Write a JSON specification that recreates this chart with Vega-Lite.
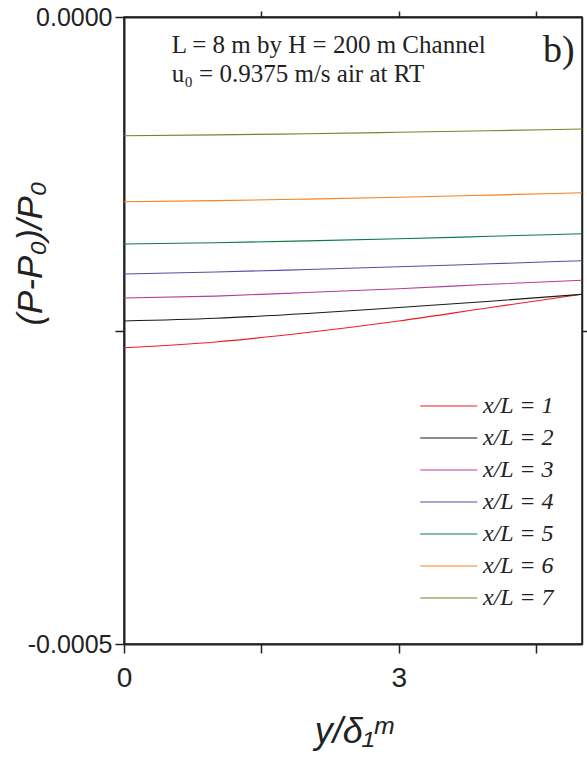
{
  "$schema": "https://vega.github.io/schema/vega-lite/v6.json",
  "width": 458,
  "height": 627,
  "autosize": {"type": "none"},
  "padding": {"left": 124, "top": 17, "right": 5, "bottom": 117},
  "background": "white",
  "config": {
    "view": {"stroke": "#222", "strokeWidth": 1.5},
    "axis": {"grid": false, "domainColor": "#222", "tickColor": "#222", "labelColor": "#222", "titleColor": "#222", "labelFlush": false, "labelOverlap": false}
  },
  "resolve": {"axis": {"x": "independent", "y": "independent"}},
  "layer": [
    {
      "data": {"values": [
        {"s": "x/L = 1", "x": 0, "p": -0.00026372},
        {"s": "x/L = 1", "x": 1, "p": -0.00025917},
        {"s": "x/L = 1", "x": 2, "p": -0.0002516},
        {"s": "x/L = 1", "x": 3, "p": -0.00024242},
        {"s": "x/L = 1", "x": 4, "p": -0.00023166},
        {"s": "x/L = 1", "x": 5, "p": -0.00022113},
        {"s": "x/L = 2", "x": 0, "p": -0.00024242},
        {"s": "x/L = 2", "x": 1, "p": -0.00024027},
        {"s": "x/L = 2", "x": 2, "p": -0.00023644},
        {"s": "x/L = 2", "x": 3, "p": -0.00023166},
        {"s": "x/L = 2", "x": 4, "p": -0.00022664},
        {"s": "x/L = 2", "x": 5, "p": -0.00022113},
        {"s": "x/L = 3", "x": 0, "p": -0.00022408},
        {"s": "x/L = 3", "x": 1, "p": -0.00022257},
        {"s": "x/L = 3", "x": 2, "p": -0.0002197},
        {"s": "x/L = 3", "x": 3, "p": -0.00021667},
        {"s": "x/L = 3", "x": 4, "p": -0.00021316},
        {"s": "x/L = 3", "x": 5, "p": -0.00020997},
        {"s": "x/L = 4", "x": 0, "p": -0.00020494},
        {"s": "x/L = 4", "x": 1, "p": -0.00020335},
        {"s": "x/L = 4", "x": 2, "p": -0.00020136},
        {"s": "x/L = 4", "x": 3, "p": -0.0001992},
        {"s": "x/L = 4", "x": 4, "p": -0.00019681},
        {"s": "x/L = 4", "x": 5, "p": -0.00019434},
        {"s": "x/L = 5", "x": 0, "p": -0.00018102},
        {"s": "x/L = 5", "x": 1, "p": -0.00017998},
        {"s": "x/L = 5", "x": 2, "p": -0.00017855},
        {"s": "x/L = 5", "x": 3, "p": -0.00017687},
        {"s": "x/L = 5", "x": 4, "p": -0.00017488},
        {"s": "x/L = 5", "x": 5, "p": -0.00017281},
        {"s": "x/L = 6", "x": 0, "p": -0.00014729},
        {"s": "x/L = 6", "x": 1, "p": -0.00014641},
        {"s": "x/L = 6", "x": 2, "p": -0.00014522},
        {"s": "x/L = 6", "x": 3, "p": -0.00014378},
        {"s": "x/L = 6", "x": 4, "p": -0.00014203},
        {"s": "x/L = 6", "x": 5, "p": -0.00014011},
        {"s": "x/L = 7", "x": 0, "p": -0.00009466},
        {"s": "x/L = 7", "x": 1, "p": -0.00009402},
        {"s": "x/L = 7", "x": 2, "p": -0.00009306},
        {"s": "x/L = 7", "x": 3, "p": -0.00009195},
        {"s": "x/L = 7", "x": 4, "p": -0.00009067},
        {"s": "x/L = 7", "x": 5, "p": -0.00008931}
      ]},
      "mark": {"type": "line", "strokeWidth": 1.1, "interpolate": "monotone", "clip": true},
      "encoding": {
        "x": {
          "field": "x", "type": "quantitative",
          "scale": {"domain": [0, 5], "nice": false, "zero": false},
          "axis": {
            "orient": "bottom", "values": [0, 1.5, 3, 4.5],
            "labelExpr": "datum.value == 0 ? '0' : datum.value == 3 ? '3' : ''",
            "domainWidth": 2, "tickWidth": 1.5, "tickSize": 9,
            "labelFont": "Liberation Sans", "labelFontSize": 28, "labelPadding": 11,
            "title": "y/δ₁ᵐ", "titleFont": "Liberation Sans", "titleFontStyle": "italic",
            "titleFontWeight": "normal", "titleFontSize": 36,
            "titleX": 229, "titleY": 98, "titleBaseline": "alphabetic", "titleAlign": "center"
          }
        },
        "y": {
          "field": "p", "type": "quantitative",
          "scale": {"domain": [-0.0005, 0], "nice": false, "zero": false},
          "axis": {
            "orient": "left", "values": [0, -0.00025, -0.0005],
            "labelExpr": "datum.value == 0 ? '0.0000' : datum.value < -0.0004 ? '-0.0005' : ''",
            "domainWidth": 2, "tickWidth": 1.5, "tickSize": 9,
            "labelFont": "Liberation Sans", "labelFontSize": 25, "labelPadding": 3,
            "title": "(P-P₀)/P₀", "titleFont": "Liberation Sans", "titleFontStyle": "italic",
            "titleFontWeight": "normal", "titleFontSize": 35,
            "titleX": -94, "titleY": 236, "titleAngle": 270, "titleBaseline": "middle", "titleAlign": "center"
          }
        },
        "color": {
          "field": "s", "type": "nominal",
          "scale": {
            "domain": ["x/L = 1", "x/L = 2", "x/L = 3", "x/L = 4", "x/L = 5", "x/L = 6", "x/L = 7"],
            "range": ["#ee1c25", "#1a1a1a", "#b53c9c", "#5b4aa0", "#0b7b45", "#f58225", "#7f7f2f"]
          },
          "legend": {
            "title": null, "orient": "none", "legendX": 324, "legendY": 374,
            "symbolType": "M-3,0H1", "symbolSize": 812, "symbolStrokeWidth": 1.2,
            "labelFont": "Liberation Serif", "labelFontStyle": "italic", "labelFontSize": 24,
            "labelColor": "#222", "labelOffset": 5, "rowPadding": 5, "padding": 0
          }
        }
      }
    },
    {
      "data": {"values": [{"t": "L = 8 m by H = 200 m Channel"}]},
      "mark": {"type": "text", "font": "Liberation Serif", "fontSize": 25, "align": "left", "baseline": "alphabetic", "color": "#222"},
      "encoding": {
        "x": {"datum": 0.52, "type": "quantitative",
          "axis": {"orient": "top", "values": [1.5, 3, 4.5], "labels": false, "title": null, "domainWidth": 2, "tickWidth": 1.5, "tickSize": 6}},
        "y": {"datum": -0.00002895, "type": "quantitative",
          "axis": {"orient": "right", "values": [-0.00025], "labels": false, "title": null, "domainWidth": 1.5, "tickWidth": 1.5, "tickSize": 8}},
        "text": {"field": "t"}
      }
    },
    {
      "data": {"values": [{"t": "u₀ = 0.9375 m/s air at RT"}]},
      "mark": {"type": "text", "font": "Liberation Serif", "fontSize": 25, "align": "left", "baseline": "alphabetic", "color": "#222"},
      "encoding": {
        "x": {"datum": 0.52, "type": "quantitative", "axis": null},
        "y": {"datum": -0.00005183, "type": "quantitative", "axis": null},
        "text": {"field": "t"}
      }
    },
    {
      "data": {"values": [{"t": "b)"}]},
      "mark": {"type": "text", "font": "Liberation Serif", "fontSize": 38, "align": "left", "baseline": "alphabetic", "color": "#222"},
      "encoding": {
        "x": {"datum": 4.574, "type": "quantitative", "axis": null},
        "y": {"datum": -0.00003589, "type": "quantitative", "axis": null},
        "text": {"field": "t"}
      }
    }
  ]
}
